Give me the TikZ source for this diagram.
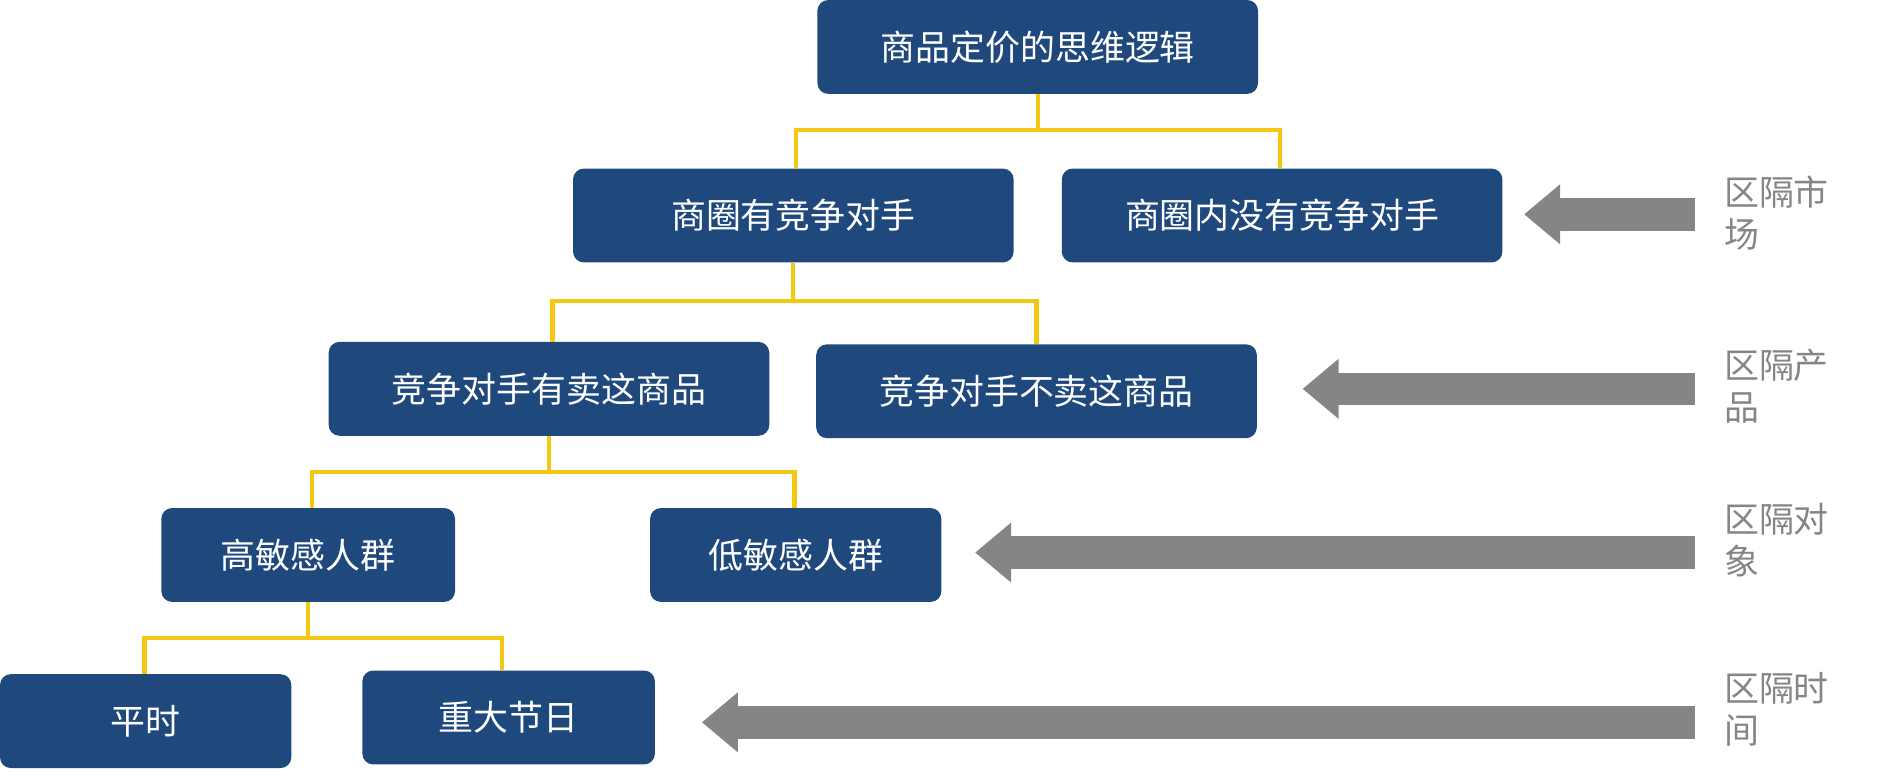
\documentclass[tikz,border=0pt]{standalone}
\usepackage{fontspec}
\setmainfont{Noto Sans CJK SC}
\usetikzlibrary{arrows.meta}
\definecolor{boxc}{HTML}{1F497D}
\definecolor{yel}{HTML}{F2C811}
\definecolor{gr}{HTML}{858585}
\begin{document}
\begin{tikzpicture}[x=1pt,y=-1pt,
 box/.style={fill=boxc,rounded corners=9pt,text=white,font=\fontsize{29}{34}\selectfont,inner sep=0pt},
 con/.style={draw=yel,line width=3.5pt},
 garr/.style={draw=gr,line width=27pt,-{Triangle[length=30pt,width=48pt]}},
 lab/.style={text=gr,font=\fontsize{29}{35}\selectfont,align=left,anchor=north west,inner sep=0pt}]
\useasboundingbox (0,0) rectangle (1560,647);
\newcommand\mybox[6]{\node[box,minimum width=#4-#2,minimum height=#5-#3] (#1) at ({(#2+#4)/2},{(#3+#5)/2}) {#6};}
\mybox{t}{679}{0}{1045}{78}{商品定价的思维逻辑}
\mybox{a1}{476}{140}{842}{218}{商圈有竞争对手}
\mybox{b1}{882}{140}{1248}{218}{商圈内没有竞争对手}
\mybox{a2}{273}{284}{639}{362}{竞争对手有卖这商品}
\mybox{b2}{678}{286}{1044}{364}{竞争对手不卖这商品}
\mybox{a3}{134}{422}{378}{500}{高敏感人群}
\mybox{b3}{540}{422}{782}{500}{低敏感人群}
\mybox{a4}{0}{560}{242}{638}{平时}
\mybox{b4}{301}{557}{544}{635}{重大节日}
\draw[con] (t.south) -- ++(0,30) -| (a1.north -| 661,0);
\draw[con] (t.south) ++(0,30) -| (b1.north -| 1063,0);
\draw[con] (a1.south) -- ++(0,32) -| (a2.north -| 459,0);
\draw[con] (a1.south) ++(0,32) -| (b2.north -| 861,0);
\draw[con] (a2.south) -- ++(0,30) -| (a3.north -| 259,0);
\draw[con] (a2.south) ++(0,30) -| (b3.north -| 660,0);
\draw[con] (a3.south) -- ++(0,30) -| (a4.north -| 120,0);
\draw[con] (a3.south) ++(0,30) -| (b4.north -| 417,0);
\coordinate (s1) at (1408,178); \coordinate (s2) at (1408,323);
\coordinate (s3) at (1408,459); \coordinate (s4) at (1408,600);
\draw[garr] (s1) -- (1266,178);
\draw[garr] (s2) -- (1082,323);
\draw[garr] (s3) -- (810,459);
\draw[garr] (s4) -- (583,600);
\node[lab] (l1) at (1432,146) {区隔市\\场};
\node[lab] (l2) at (1432,290) {区隔产\\品};
\node[lab] (l3) at (1432,418) {区隔对\\象};
\node[lab] (l4) at (1432,558) {区隔时\\间};
\end{tikzpicture}
\end{document}
